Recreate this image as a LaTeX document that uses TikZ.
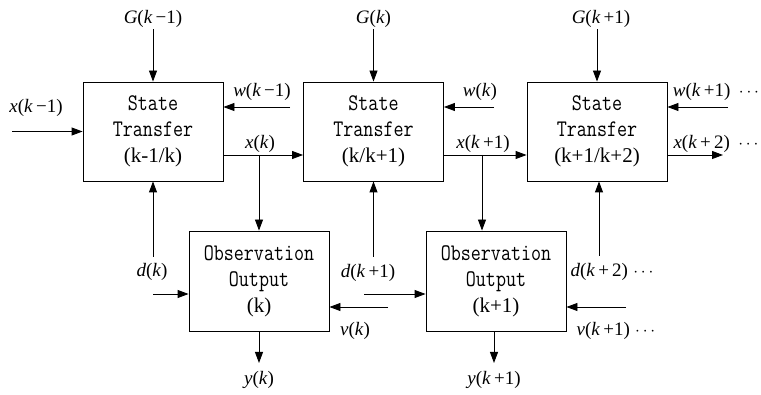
\documentclass[tikz,border=0pt]{standalone}
\usepackage{fontspec}
\setmainfont{Liberation Serif}
\usetikzlibrary{positioning,arrows.meta}
\newcommand{\mono}[1]{\scalebox{1}[1.22]{\texttt{#1}}}
\newcommand{\sig}[2]{\textit{#1}(\textit{k}#2)}

\begin{document}
\begin{tikzpicture}[x=1pt,y=-1pt,line width=0.9pt,>={Triangle[length=11pt,width=8pt]}]
\tikzstyle{blk}=[draw,minimum width=140pt,minimum height=99pt,inner sep=0pt,align=center,font=\fontsize{19.5}{26}\selectfont]
\tikzstyle{lbl}=[inner sep=1pt,font=\fontsize{19}{20}\selectfont]
\useasboundingbox (0,0) rectangle (761,395);
% state transfer blocks
\node[blk] (st1) at (153,131.5) {\mono{State}\\\mono{Transfer}\\{\fontsize{21}{26}\selectfont(k-1/k)}};
\node[blk] (st2) at (373.5,131.5) {\mono{State}\\\mono{Transfer}\\{\fontsize{21}{26}\selectfont(k/k+1)}};
\node[blk] (st3) at (597,131.5) {\mono{State}\\\mono{Transfer}\\{\fontsize{21}{26}\selectfont(k+1/k+2)}};
% observation blocks
\node[blk,minimum height=100pt] (ob1) at (259,281) {\mono{Observation}\\\mono{Output}\\{\fontsize{21}{26}\selectfont(k)}};
\node[blk,minimum height=100pt] (ob2) at (496,281) {\mono{Observation}\\\mono{Output}\\{\fontsize{21}{26}\selectfont(k+1)}};
% G inputs
\node[lbl] (g1) at (153,19) {\sig{G}{\,−1}};
\node[lbl] (g2) at (373.5,19) {\sig{G}{}};
\node[lbl] (g3) at (601,19) {\sig{G}{\,+1}};
\draw[->] (g1) -- (st1);
\draw[->] (g2) -- (st2);
\draw[->] (g3.south -| st3.north) -- (st3);
% state chain
\coordinate (xin) at (12,131.5);
\coordinate (j1) at (259,155);
\coordinate (j2) at (482,155);
\coordinate (xout) at (723,155);
\node[lbl] (lx0) at (36,108) {\sig{x}{\,−1}};
\node[lbl] (lx1) at (260,144) {\sig{x}{}};
\node[lbl] (lx2) at (483,144) {\sig{x}{\,+1}};
\node[lbl] (lx3) at (716,144) {\sig{x}{\,+\,2}\;\,$\cdots$};
\draw[->] (xin) -- (st1);
\draw[->] (j1 -| st1.east) -- (j1 -| st2.west);
\draw[->] (j2 -| st2.east) -- (j2 -| st3.west);
\draw[->] (xout -| st3.east) -- (xout);
\draw[->] (j1) -- (j1 |- ob1.north);
\draw[->] (j2) -- (j2 |- ob2.north);
% w inputs
\coordinate (w1) at (290,107);
\coordinate (w2) at (494,107);
\coordinate (w3) at (728,107);
\node[lbl] (lw1) at (262,92) {\sig{w}{\,−1}};
\node[lbl] (lw2) at (480,92) {\sig{w}{}};
\node[lbl] (lw3) at (716,92) {\sig{w}{\,+1}\;\,$\cdots$};
\draw[->] (w1) -- (w1 -| st1.east);
\draw[->] (w2) -- (w2 -| st2.east);
\draw[->] (w3) -- (w3 -| st3.east);
% d inputs
\coordinate (d1) at (153,257);
\coordinate (d2) at (373.5,257);
\coordinate (d3) at (599,256);
\coordinate (dd1) at (153,294);
\coordinate (dd2) at (364,294);
\node[lbl] (ld1) at (152,272) {\sig{d}{}};
\node[lbl] (ld2) at (368,273) {\sig{d}{\,+1}};
\node[lbl] (ld3) at (612,272) {\sig{d}{\,+\,2}\;$\cdots$};
\draw[->] (d1) -- (d1 |- st1.south);
\draw[->] (d2) -- (d2 |- st2.south);
\draw[->] (d3) -- (d3 |- st3.south);
\draw[->] (dd1) -- (dd1 -| ob1.west);
\draw[->] (dd2) -- (dd2 -| ob2.west);
% v inputs
\coordinate (v1) at (388,307);
\coordinate (v2) at (626,307);
\node[lbl] (lv1) at (355,331) {\sig{v}{}};
\node[lbl] (lv2) at (616,331) {\sig{v}{\,+1}\;$\cdots$};
\draw[->] (v1) -- (v1 -| ob1.east);
\draw[->] (v2) -- (v2 -| ob2.east);
% outputs
\coordinate (y1) at (259,363);
\coordinate (y2) at (494,363);
\node[lbl] (ly1) at (259,380) {\sig{y}{}};
\node[lbl] (ly2) at (494,380) {\sig{y}{\,+1}};
\draw[->] (y1 |- ob1.south) -- (y1);
\draw[->] (y2 |- ob2.south) -- (y2);
\end{tikzpicture}
\end{document}
